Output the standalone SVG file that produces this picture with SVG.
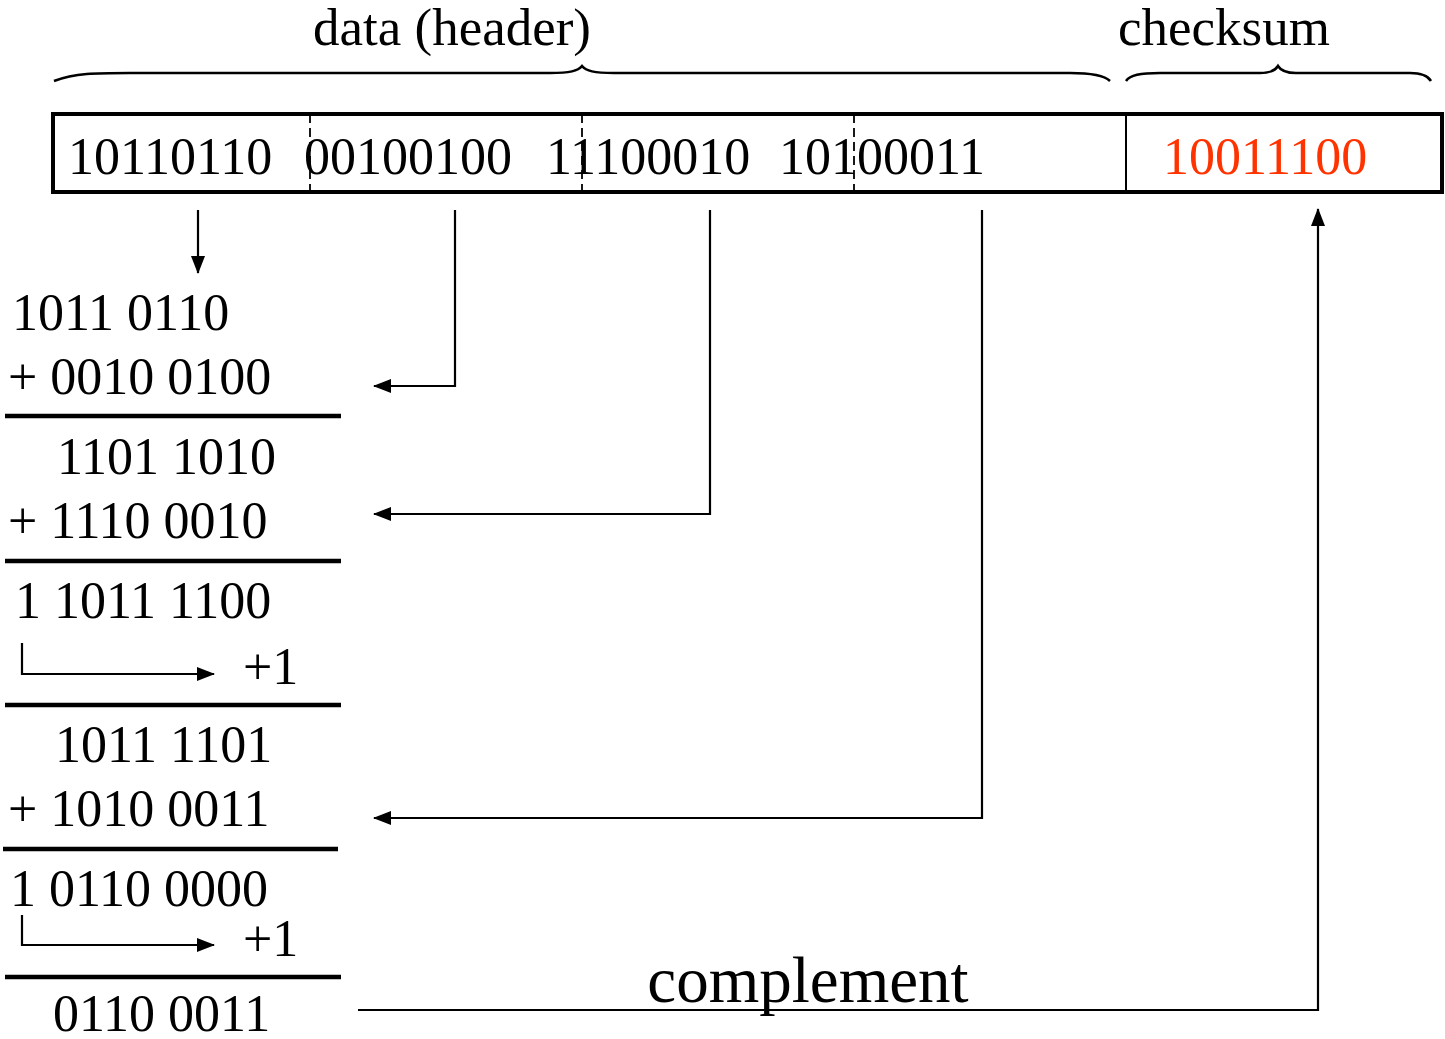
<svg xmlns="http://www.w3.org/2000/svg" width="1445" height="1039" viewBox="0 0 1445 1039">
  <style>
    text { font-family: "Liberation Serif", "Times New Roman", serif; fill: #000; }
    .num { font-size: 52px; }
    .lbl { font-size: 53px; }
    .sum { fill: #FF3300; }
    .wire { fill: none; stroke: #000; stroke-width: 2.2; }
    .rule { stroke: #000; stroke-width: 4.5; }
    .brace { fill: none; stroke: #000; stroke-width: 2.5; }
    .sep { stroke: #000; stroke-width: 1.8; stroke-dasharray: 9 5; }
  </style>
  <defs>
    <marker id="arrowL" viewBox="0 0 18 14" refX="17" refY="7" markerWidth="18" markerHeight="14" markerUnits="userSpaceOnUse" orient="auto">
      <path d="M0,0 L18,7 L0,14 z" fill="#000"/>
    </marker>
  </defs>

  <!-- segment braces and their labels -->
  <g id="data-label">
    <path class="brace" d="M54,81 C75,73 95,73 130,73 L550,73 C570,73 578,71 582,66 C586,71 594,73 614,73 L1070,73 C1092,73 1105,76 1110,81"/>
    <text class="lbl" x="452" y="45" text-anchor="middle">data (header)</text>
  </g>
  <g id="checksum-label">
    <path class="brace" d="M1126,81 C1130,75 1140,73 1160,73 L1260,73 C1270,73 1275,71 1278,66 C1281,71 1286,73 1296,73 L1410,73 C1422,73 1428,76 1431,81"/>
    <text class="lbl" x="1224" y="45" text-anchor="middle">checksum</text>
  </g>

  <!-- packet: header words plus checksum field -->
  <g id="packet">
    <rect x="53" y="114" width="1389" height="78" fill="#fff" stroke="#000" stroke-width="4"/>
    <line x1="1126" y1="114" x2="1126" y2="192" stroke="#000" stroke-width="2"/>
    <text class="num" x="68" y="174">10110110</text>
    <text class="num" x="304" y="174">00100100</text>
    <text class="num" x="546" y="174">11100010</text>
    <text class="num" x="779" y="174">10100011</text>
    <line class="sep" x1="310" y1="114" x2="310" y2="192"/>
    <line class="sep" x1="582" y1="114" x2="582" y2="192"/>
    <line class="sep" x1="854" y1="114" x2="854" y2="192"/>
    <text class="num sum" x="1163" y="174">10011100</text>
  </g>

  <!-- one's-complement addition steps -->
  <g id="sum-steps">
    <text class="num" x="12" y="330">1011 0110</text>
    <text class="num" x="8" y="394">+ 0010 0100</text>
    <line class="rule" x1="5" y1="416" x2="341" y2="416"/>
    <text class="num" x="57" y="474">1101 1010</text>
    <text class="num" x="8" y="538">+ 1110 0010</text>
    <line class="rule" x1="5" y1="561" x2="341" y2="561"/>
    <text class="num" x="15" y="618">1 1011 1100</text>
    <text class="num" x="243" y="684">+1</text>
    <line class="rule" x1="5" y1="705" x2="341" y2="705"/>
    <text class="num" x="55" y="762">1011 1101</text>
    <text class="num" x="8" y="826">+ 1010 0011</text>
    <line class="rule" x1="3" y1="849" x2="338" y2="849"/>
    <text class="num" x="10" y="906">1 0110 0000</text>
    <text class="num" x="243" y="956">+1</text>
    <line class="rule" x1="5" y1="977" x2="341" y2="977"/>
    <text class="num" x="53" y="1031">0110 0011</text>
  </g>

  <g id="complement-label">
    <text x="808" y="1002" text-anchor="middle" style="font-size:65px">complement</text>
  </g>

  <!-- connectors -->
  <g id="connectors">
    <path class="wire" d="M198,210 L198,273" marker-end="url(#arrowL)"/>
    <path class="wire" d="M455,210 L455,386 L374,386" marker-end="url(#arrowL)"/>
    <path class="wire" d="M710,210 L710,514 L374,514" marker-end="url(#arrowL)"/>
    <path class="wire" d="M982,210 L982,818 L374,818" marker-end="url(#arrowL)"/>
    <path class="wire" d="M22,643 L22,674 L214,674" marker-end="url(#arrowL)"/>
    <path class="wire" d="M22,915 L22,945 L214,945" marker-end="url(#arrowL)"/>
    <path class="wire" d="M358,1010 L1318,1010 L1318,209" marker-end="url(#arrowL)"/>
  </g>
</svg>
